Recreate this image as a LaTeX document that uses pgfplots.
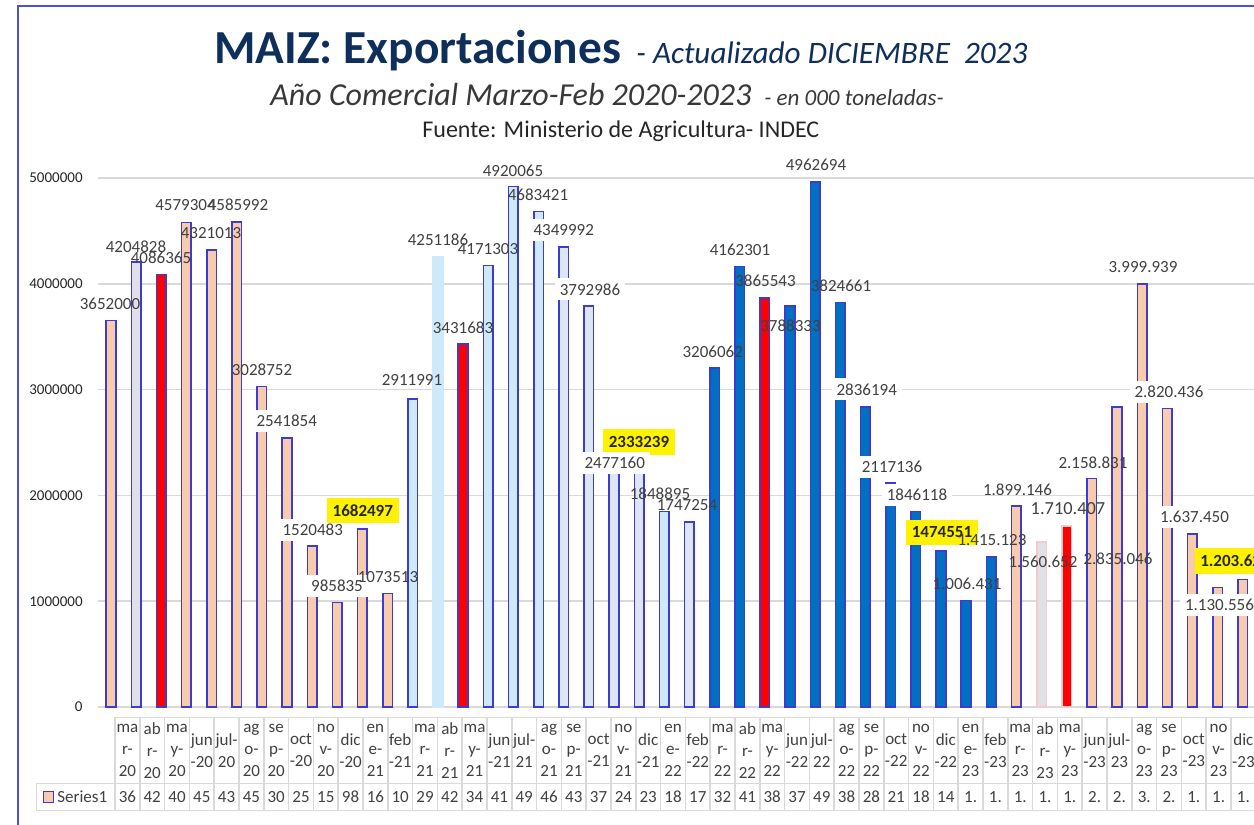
\documentclass[border=0pt]{standalone}
\usepackage{fontspec}
\setmainfont{Carlito}
\usepackage{pgfplots}
\pgfplotsset{compat=1.18}
\definecolor{peach}{HTML}{F8CBAD}
\definecolor{bord}{HTML}{3C3CD2}
\definecolor{cyanb}{HTML}{CDE9FA}
\definecolor{paleb}{HTML}{DCE6F4}
\definecolor{dblue}{HTML}{0070C0}
\definecolor{lgray}{HTML}{E0E0E6}
\definecolor{pinkb}{HTML}{F6CACA}
\definecolor{navy}{HTML}{0E2E5C}
\definecolor{txt}{HTML}{404040}
\definecolor{gridc}{HTML}{D9D9D9}
\definecolor{framec}{HTML}{4F4FD6}
\pgfplotsset{mybar/.style={bar shift=0pt, line width=0.8pt}}
\begin{document}
\begin{tikzpicture}
\path[use as bounding box] (0,0) rectangle (627pt,412.5pt);
\begin{axis}[
  at={(49.2pt,59pt)}, anchor=south west,
  scale only axis, width=578.45pt, height=264.5pt,
  xmin=-0.5, xmax=45.5, ymin=0, ymax=5000000,
  axis line style={draw=none},
  xtick=\empty,
  ytick={0,1000000,2000000,3000000,4000000,5000000},
  ymajorgrids, grid style={gridc, line width=0.75pt},
  major tick length=0pt,
  scaled y ticks=false,
  yticklabel style={font=\fontsize{7.5}{9}\selectfont, text=black!85, inner sep=0pt, xshift=-7.7pt,
    /pgf/number format/fixed, /pgf/number format/1000 sep={}, /pgf/number format/assume math mode=true},
  ybar, bar width=4.8pt,
  clip=false,
]
% 2020 season & 2023 (peach)
\addplot[mybar, fill=peach, draw=bord] coordinates {
 (0,3652000) (3,4579304) (4,4321013) (5,4585992) (6,3028752) (7,2541854)
 (8,1520483) (9,985835) (10,1682497) (11,1073513)
 (36,1899146) (39,2158831) (40,2835046) (41,3999939) (42,2820436)
 (43,1637450) (44,1130556) (45,1203620)};
% abr-20
\addplot[mybar, fill=lgray, draw=bord] coordinates {(1,4204828)};
% red May bars
\addplot[mybar, fill=red, draw=bord] coordinates {(2,4086365) (14,3431683) (26,3865543)};
% light cyan 2021
\addplot[mybar, fill=cyanb, draw=bord] coordinates {
 (12,2911991) (15,4171303) (16,4920065) (17,4683421) (22,1848895)};
% abr-21 no border
\addplot[mybar, fill=cyanb, draw=cyanb] coordinates {(13,4251186)};
% pale blue 2021
\addplot[mybar, fill=paleb, draw=bord] coordinates {
 (18,4349992) (19,3792986) (20,2477160) (21,2333239) (23,1747254)};
% dark blue 2022
\addplot[mybar, fill=dblue, draw=bord] coordinates {
 (24,3206062) (25,4162301) (27,3788333) (28,4962694) (29,3824661) (30,2836194)
 (31,2117136) (32,1846118) (33,1474551) (34,1006431) (35,1415123)};
% 2023 abr/may
\addplot[mybar, fill=lgray, draw=pinkb] coordinates {(37,1560652)};
\addplot[mybar, fill=red, draw=pinkb] coordinates {(38,1710407)};
\end{axis}

\begin{scope}[x=0.5pt,y=-0.5pt,yshift=412.5pt]
\tikzset{
 lbl/.style={font=\fontsize{8.5}{10}\selectfont, text=txt, inner sep=0pt},
 wl/.style={lbl, fill=white, inner xsep=2.5pt, inner ysep=2.5pt},
 yl/.style={font=\fontsize{8.5}{10}\selectfont\bfseries, text=black!85, fill=yellow, inner sep=0pt, minimum width=36pt, minimum height=12.75pt},
 hdr/.style={font=\fontsize{8.5}{11}\selectfont, text=txt, inner sep=0pt, align=center}
}
% frame
\draw[framec, line width=1pt] (18,830) -- (18,6) -- (1260,6);
% titles
\node[anchor=base west, text=navy, inner sep=0pt, font=\fontsize{23.7}{28}\selectfont\bfseries] at (214,63.3) {MAIZ: Exportaciones};
\node[anchor=base west, text=navy, inner sep=0pt, font=\fontsize{15.6}{18}\selectfont\itshape] at (636,63.3) {- Actualizado DICIEMBRE\ \ 2023};
\node[anchor=base west, text=black!78, inner sep=0pt, font=\fontsize{16}{19}\selectfont\itshape] at (270,106) {Año Comercial Marzo-Feb 2020-2023};
\node[anchor=base west, text=black!78, inner sep=0pt, font=\fontsize{11.5}{13}\selectfont\itshape] at (764,106) {- en 000 toneladas-};
\node[anchor=base west, text=black!85, inner sep=0pt, font=\fontsize{12}{14}\selectfont] at (422,137.7) {Fuente: Ministerio de Agricultura- INDEC};
% data labels
\node[lbl] at (110,304) {3652000};
\node[lbl] at (136,246.7) {4204828};
\node[lbl] at (161,258) {4086365};
\node[lbl] at (185.5,205) {4579304};
\node[lbl] at (211,232.7) {4321013};
\node[lbl] at (238,205) {4585992};
\node[lbl] at (262,370) {3028752};
\node[wl] at (286.7,420.7) {2541854};
\node[wl] at (312.7,530) {1520483};
\node[yl] at (362.8,510.5) {1682497};
\node[wl] at (337,586) {985835};
\node[lbl] at (388,576.7) {1073513};
\node[lbl] at (412,380) {2911991};
\node[lbl] at (438,240) {4251186};
\node[lbl] at (463,327.3) {3431683};
\node[lbl] at (488,249.3) {4171303};
\node[lbl] at (513,170.7) {4920065};
\node[lbl] at (538,195) {4683421};
\node[wl] at (563.7,230) {4349992};
\node[wl] at (590,289.3) {3792986};
\node[yl] at (639,442) {2333239};
\node[wl] at (614.7,463.3) {2477160};
\node[lbl] at (660,494) {1848895};
\node[lbl] at (687,505) {1747254};
\node[lbl] at (712.7,351.7) {3206062};
\node[lbl] at (740,250) {4162301};
\node[lbl] at (765.5,281) {3865543};
\node[lbl] at (790.5,325.7) {3788333};
\node[lbl] at (816,165) {4962694};
\node[lbl] at (841,286) {3824661};
\node[wl] at (866.7,389.3) {2836194};
\node[wl] at (892,467.3) {2117136};
\node[wl] at (917,495) {1846118};
\node[yl] at (942,532.5) {1474551};
\node[lbl] at (992,540) {1.415.123};
\node[lbl] at (967,584) {1.006.431};
\node[lbl] at (1017.5,489.3) {1.899.146};
\node[lbl] at (1043,561.7) {1.560.652};
\node[lbl, font=\fontsize{9.2}{11}\selectfont] at (1068,508.3) {1.710.407};
\node[lbl] at (1093,462.7) {2.158.831};
\node[lbl] at (1118,558.3) {2.835.046};
\node[lbl] at (1143,266.7) {3.999.939};
\node[wl] at (1169,391.7) {2.820.436};
\node[wl] at (1194.5,517.3) {1.637.450};
\node[yl, minimum width=40pt] at (1235,561) {1.203.620};
\node[wl] at (1219.5,605) {1.130.556};
% data table
\foreach \i in {0,...,46} \draw[gridc, line width=0.75pt] ({115+24.8*\i},717.3) -- ({115+24.8*\i},810.7);
\draw[gridc, line width=0.75pt] (115,717.3) -- (1260,717.3);
\draw[gridc, line width=0.75pt] (36.7,783.3) -- (1260,783.3);
\draw[gridc, line width=0.75pt] (36.7,810.7) -- (1260,810.7);
\draw[gridc, line width=0.75pt] (36.7,783.3) -- (36.7,810.7);
\foreach \lab [count=\i from 0] in {
 {ma\\r-\\20},{ab\\r-\\20},{ma\\y-\\20},{jun\\-20},{jul-\\20},{ag\\o-\\20},{se\\p-\\20},{oct\\-20},{no\\v-\\20},{dic\\-20},{en\\e-\\21},{feb\\-21},
 {ma\\r-\\21},{ab\\r-\\21},{ma\\y-\\21},{jun\\-21},{jul-\\21},{ag\\o-\\21},{se\\p-\\21},{oct\\-21},{no\\v-\\21},{dic\\-21},{en\\e-\\22},{feb\\-22},
 {ma\\r-\\22},{ab\\r-\\22},{ma\\y-\\22},{jun\\-22},{jul-\\22},{ag\\o-\\22},{se\\p-\\22},{oct\\-22},{no\\v-\\22},{dic\\-22},{en\\e-\\23},{feb\\-23},
 {ma\\r-\\23},{ab\\r-\\23},{ma\\y-\\23},{jun\\-23},{jul-\\23},{ag\\o-\\23},{se\\p-\\23},{oct\\-23},{no\\v-\\23},{dic\\-23}}
 \node[hdr] at ({127.4+24.8*\i},750.3) {\lab};
\foreach \v [count=\i from 0] in {36,42,40,45,43,45,30,25,15,98,16,10,29,42,34,41,49,46,43,37,24,23,18,17,32,41,38,37,49,38,28,21,18,14,1.,1.,1.,1.,1.,2.,2.,3.,2.,1.,1.,1.}
 \node[hdr] at ({127.4+24.8*\i},797) {\v};
\draw[fill=peach, draw=bord, line width=0.7pt] (43.3,791.7) rectangle (53.3,802.7);
\node[hdr, anchor=west] at (57,797) {Series1};
\end{scope}
\end{tikzpicture}
\end{document}
